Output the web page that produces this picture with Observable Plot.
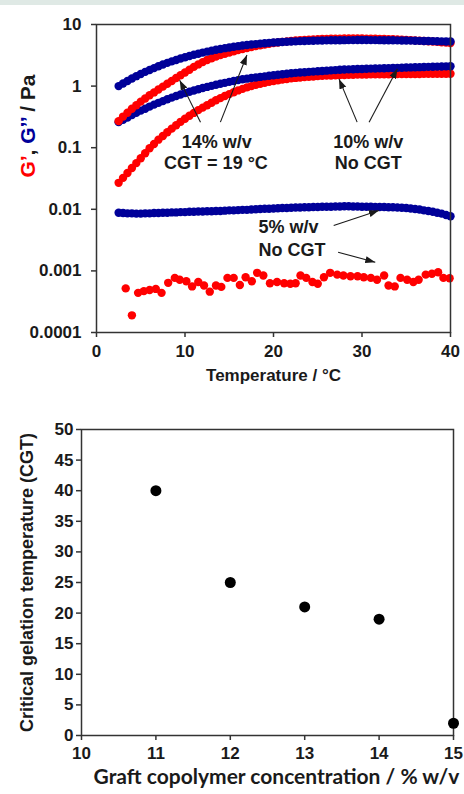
<!DOCTYPE html>
<html>
<head>
<meta charset="utf-8">
<script src="https://cdn.jsdelivr.net/npm/d3@7"></script>
<script src="https://cdn.jsdelivr.net/npm/@observablehq/plot@0.6"></script>
<style>
  html, body { margin: 0; padding: 0; background: #fff; }
  body { width: 464px; height: 794px; position: relative; overflow: hidden; }
  #band { position: absolute; left: 0; top: 0; width: 464px; height: 5px; background: #dfe9e5; z-index: 2; }
  #top { position: absolute; left: 0; top: 0; }
  #bottom { position: absolute; left: 0; top: 400px; }
</style>
</head>
<body>
<div id="band"></div>
<div id="top"></div>
<div id="bottom"></div>
<script>
// ---------- Top chart: G', G'' vs temperature ----------
const temps = [2.5,3,3.5,4,4.5,5,5.5,6,6.5,7,7.5,8,8.5,9,9.5,10,10.5,11,11.5,12,12.5,13,13.5,14,14.5,15,15.5,16,16.5,17,17.5,18,18.5,19,19.5,20,20.5,21,21.5,22,22.5,23,23.5,24,24.5,25,25.5,26,26.5,27,27.5,28,28.5,29,29.5,30,30.5,31,31.5,32,32.5,33,33.5,34,34.5,35,35.5,36,36.5,37,37.5,38,38.5,39,39.5,40];

// 14% w/v G'' (blue)
const g14Loss = [1.00,1.10,1.21,1.33,1.45,1.57,1.70,1.83,1.96,2.10,
  2.24,2.38,2.52,2.66,2.80,2.94,3.08,3.22,3.36,3.50,
  3.63,3.76,3.89,4.01,4.13,4.24,4.35,4.45,4.55,4.64,
  4.73,4.81,4.89,4.96,5.03,5.09,5.15,5.20,5.25,5.29,
  5.33,5.37,5.40,5.43,5.46,5.48,5.50,5.52,5.54,5.55,
  5.56,5.57,5.58,5.58,5.59,5.59,5.59,5.58,5.58,5.57,
  5.56,5.55,5.54,5.53,5.51,5.49,5.47,5.45,5.43,5.41,
  5.39,5.37,5.35,5.33,5.31,5.29];
// 14% w/v G' (red)
const g14Storage = [0.27,0.32,0.37,0.43,0.49,0.56,0.63,0.71,0.79,0.88,
  0.98,1.09,1.21,1.35,1.50,1.66,1.84,2.05,2.25,2.45,
  2.65,2.84,3.02,3.19,3.36,3.52,3.68,3.84,4.00,4.16,
  4.31,4.46,4.60,4.74,4.87,5.00,5.11,5.22,5.32,5.41,
  5.49,5.56,5.63,5.69,5.74,5.78,5.82,5.85,5.87,5.89,
  5.90,5.91,5.92,5.92,5.92,5.91,5.90,5.89,5.87,5.85,
  5.82,5.79,5.76,5.72,5.68,5.63,5.58,5.53,5.47,5.41,
  5.35,5.29,5.22,5.15,5.08,5.00];
// 10% w/v G'' (blue)
const g10Loss = [0.26,0.285,0.31,0.34,0.37,0.40,0.43,0.465,0.50,0.535,
  0.57,0.61,0.65,0.69,0.73,0.77,0.81,0.85,0.89,0.93,
  0.97,1.01,1.05,1.09,1.13,1.17,1.21,1.25,1.29,1.32,
  1.35,1.38,1.41,1.44,1.47,1.50,1.53,1.56,1.59,1.62,
  1.64,1.66,1.68,1.70,1.72,1.74,1.76,1.78,1.80,1.82,
  1.84,1.86,1.87,1.88,1.89,1.90,1.91,1.92,1.93,1.94,
  1.95,1.96,1.97,1.98,1.99,2.00,2.01,2.02,2.03,2.04,
  2.05,2.06,2.07,2.08,2.09,2.10];
// 10% w/v G' (red)
const g10Storage = [0.0269,0.0324,0.0389,0.0468,0.0562,0.0676,0.0813,0.0977,0.115,0.135,
  0.155,0.178,0.204,0.232,0.263,0.295,0.331,0.367,0.407,0.447,
  0.490,0.537,0.589,0.638,0.692,0.741,0.794,0.851,0.902,0.955,
  1.000,1.047,1.091,1.135,1.175,1.211,1.245,1.276,1.306,1.334,
  1.358,1.380,1.400,1.419,1.435,1.452,1.466,1.479,1.489,1.500,
  1.510,1.517,1.524,1.531,1.538,1.542,1.545,1.549,1.552,1.555,
  1.558,1.561,1.564,1.566,1.568,1.570,1.572,1.574,1.576,1.578,
  1.579,1.580,1.581,1.582,1.583,1.585];
// 5% w/v G'' (blue)
const g5Loss = [0.0088,0.0087,0.0086,0.0086,0.0085,0.0085,0.0086,0.0086,0.0087,0.0087,
  0.0088,0.0088,0.0089,0.0089,0.0090,0.0090,0.0091,0.0091,0.0092,0.0092,
  0.0093,0.0093,0.0094,0.0094,0.0095,0.0096,0.0096,0.0097,0.0098,0.0098,
  0.0099,0.0100,0.0101,0.0102,0.0102,0.0103,0.0104,0.0105,0.0105,0.0106,
  0.0107,0.0107,0.0108,0.0108,0.0109,0.0109,0.0110,0.0110,0.0110,0.0111,
  0.0111,0.0112,0.0112,0.0111,0.0111,0.0110,0.0110,0.0110,0.0109,0.0109,
  0.0109,0.0108,0.0108,0.0107,0.0106,0.0105,0.0103,0.0101,0.0099,0.0096,
  0.0094,0.0091,0.0088,0.0085,0.0081,0.0077];
// 5% w/v G' (red, noisy)
const g5StorageT = [3.3,4.0,4.7,5.35,6.0,6.7,7.35,8.1,8.85,9.4,10.15,10.8,11.5,12.15,12.8,13.5,14.1,14.8,15.5,16.2,16.85,17.55,18.15,18.85,19.6,20.4,21.2,21.9,22.5,23.05,23.7,24.4,25.0,25.7,26.4,27.2,27.9,28.7,29.5,30.2,31.0,31.7,32.5,33.0,33.7,34.35,35.1,35.8,36.4,37.2,37.9,38.6,39.2,39.9];
const g5Storage = [0.00052,0.00019,0.00044,0.00047,0.00049,0.00051,0.00044,0.00064,0.00077,0.00072,
  0.00068,0.00056,0.00066,0.00058,0.00046,0.00058,0.00055,0.00077,0.00077,0.00059,
  0.00079,0.00068,0.00093,0.00084,0.00063,0.00066,0.00063,0.00062,0.00063,0.00084,
  0.00077,0.00066,0.00062,0.00079,0.00093,0.00087,0.00084,0.00082,0.00082,0.00079,
  0.00077,0.00072,0.00084,0.00058,0.00056,0.00077,0.00072,0.00066,0.00072,0.00087,
  0.00090,0.00095,0.00077,0.00076];

const topXTicks = [0, 10, 20, 30, 40];
const topYTicks = [0.0001, 0.001, 0.01, 0.1, 1, 10];
const topYTickLabels = ["0.0001", "0.001", "0.01", "0.1", "1", "10"];

// annotations (data coordinates)
const noteText = ["14% w/v", "CGT = 19 °C", "10% w/v", "No CGT", "5% w/v", "No CGT"];
const noteT = [13.6, 13.5, 30.7, 30.7, 18.3, 18.3];
const noteV = [0.121, 0.0553, 0.121, 0.0553, 0.00513, 0.00214];
const noteAnchor = ["middle", "middle", "middle", "middle", "start", "start"];
const arrowT1 = [11.75, 14.0, 29.45, 30.8, 26.8, 27.3];
const arrowV1 = [0.26, 0.26, 0.26, 0.26, 0.00546, 0.00201];
const arrowT2 = [9.4, 17.0, 27.4, 34.0, 31.9, 31.5];
const arrowV2 = [1.25, 3.2, 1.31, 1.92, 0.00957, 0.00138];

// ---------- Bottom chart: CGT vs concentration ----------
const conc = [11, 12, 13, 14, 15];
const cgt = [40, 25, 21, 19, 2];
const botXTicks = [10, 11, 12, 13, 14, 15];
const botYTicks = [0, 5, 10, 15, 20, 25, 30, 35, 40, 45, 50];

const RED = "#ff0000";
const BLUE = "#000099";
const INK = "#1a1a1a";
const FONT = "'Liberation Sans', Arial, Helvetica, sans-serif";

const series = (xs, ys) => xs.map((t, i) => ({T: t, v: ys[i]}));
const notes = noteText.map((s, i) => ({s, T: noteT[i], v: noteV[i], a: noteAnchor[i]}));
const arrows = arrowT1.map((t, i) => ({t1: t, v1: arrowV1[i], t2: arrowT2[i], v2: arrowV2[i]}));

const dotOpts = (fill) => ({x: "T", y: "v", r: 4.2, fill, stroke: "none"});

const topPlot = Plot.plot({
  width: 464, height: 400,
  marginLeft: 96, marginRight: 14, marginTop: 24, marginBottom: 68,
  style: {fontFamily: FONT, fontSize: "17px", fontWeight: "bold", color: INK, background: "transparent", overflow: "visible"},
  x: {domain: [0, 40]},
  y: {type: "log", domain: [0.0001, 10]},
  marks: [
    Plot.dot(series(g5StorageT, g5Storage), dotOpts(RED)),
    Plot.dot(series(temps, g5Loss), dotOpts(BLUE)),
    Plot.dot(series(temps, g10Storage), dotOpts(RED)),
    Plot.dot(series(temps, g10Loss), dotOpts(BLUE)),
    Plot.dot(series(temps, g14Storage), dotOpts(RED)),
    Plot.dot(series(temps, g14Loss), dotOpts(BLUE)),
    Plot.link(arrows, {x1: "t1", y1: "v1", x2: "t2", y2: "v2", stroke: INK, strokeWidth: 1.1, markerEnd: "arrow"}),
    Plot.text(notes.filter(d => d.a === "middle"), {x: "T", y: "v", text: "s", textAnchor: "middle", fontSize: 18, fontWeight: "bold", fontFamily: FONT, fill: INK}),
    Plot.text(notes.filter(d => d.a === "start"), {x: "T", y: "v", text: "s", textAnchor: "start", fontSize: 18, fontWeight: "bold", fontFamily: FONT, fill: INK}),
    Plot.frame({stroke: "#333", strokeWidth: 1.5}),
    Plot.axisX({ticks: topXTicks, tickSize: 5, tickPadding: 7, label: null, stroke: "#333", strokeWidth: 1.5, fontFamily: FONT, fontSize: 17, tickFormat: d => String(d)}),
    Plot.axisY({ticks: topYTicks, tickSize: 5, tickPadding: 10, label: null, stroke: "#333", strokeWidth: 1.5, fontFamily: FONT, fontSize: 17,
      tickFormat: d => topYTickLabels[topYTicks.indexOf(d)]}),
    Plot.text(["Temperature / °C"], {frameAnchor: "bottom", dy: 48, text: d => d, textAnchor: "middle", fontSize: 17, fontWeight: "bold", fontFamily: FONT, fill: INK})
  ]
});
document.getElementById("top").appendChild(topPlot);

// multi-coloured y-axis title
const ylab = d3.select(topPlot).append("text")
  .attr("transform", "translate(27,126) rotate(-90)")
  .attr("text-anchor", "middle")
  .attr("dominant-baseline", "central")
  .style("font-family", FONT).style("font-size", "21px").style("font-weight", "bold");
ylab.append("tspan").attr("fill", RED).text("G’");
ylab.append("tspan").attr("fill", INK).text(", ");
ylab.append("tspan").attr("fill", BLUE).text("G’’");
ylab.append("tspan").attr("fill", INK).text(" / Pa");

// filled triangular arrow heads
topPlot.querySelectorAll("marker").forEach(m => {
  m.setAttribute("viewBox", "-10 -4 10 8");
  m.setAttribute("markerWidth", "10");
  m.setAttribute("markerHeight", "8");
  m.setAttribute("markerUnits", "userSpaceOnUse");
  m.setAttribute("fill", INK);
  m.setAttribute("stroke", "none");
  m.querySelectorAll("path").forEach(p => p.setAttribute("d", "M-10,-3.6L0,0L-10,3.6Z"));
});

const botPlot = Plot.plot({
  width: 464, height: 394,
  marginLeft: 81, marginRight: 11, marginTop: 29, marginBottom: 59,
  style: {fontFamily: FONT, fontSize: "17px", fontWeight: "bold", color: INK, background: "transparent", overflow: "visible"},
  x: {domain: [10, 15]},
  y: {domain: [0, 50]},
  marks: [
    Plot.frame({stroke: "#333", strokeWidth: 1.5}),
    Plot.axisX({ticks: botXTicks, tickSize: 5, tickPadding: 6, label: null, stroke: "#333", strokeWidth: 1.5, fontFamily: FONT, fontSize: 17, tickFormat: d => String(d)}),
    Plot.axisY({ticks: botYTicks, tickSize: 5, tickPadding: 3, label: null, stroke: "#333", strokeWidth: 1.5, fontFamily: FONT, fontSize: 17, tickFormat: d => String(d)}),
    Plot.dot(conc.map((c, i) => ({c, g: cgt[i]})), {x: "c", y: "g", r: 5.5, fill: "#000", stroke: "none"}),
    Plot.text(["Critical gelation temperature (CGT)"], {frameAnchor: "left", dx: -54, rotate: -90, textAnchor: "middle", text: d => d, fontSize: 18, fontWeight: "bold", fontFamily: FONT, fill: INK}),
    Plot.text(["Graft copolymer concentration / % w/v"], {frameAnchor: "bottom", dx: 9, dy: 48, textAnchor: "middle", text: d => d, fontSize: 21, fontWeight: "bold", fontFamily: "Lato, 'Open Sans', sans-serif", fill: INK})
  ]
});
document.getElementById("bottom").appendChild(botPlot);
</script>
</body>
</html>
